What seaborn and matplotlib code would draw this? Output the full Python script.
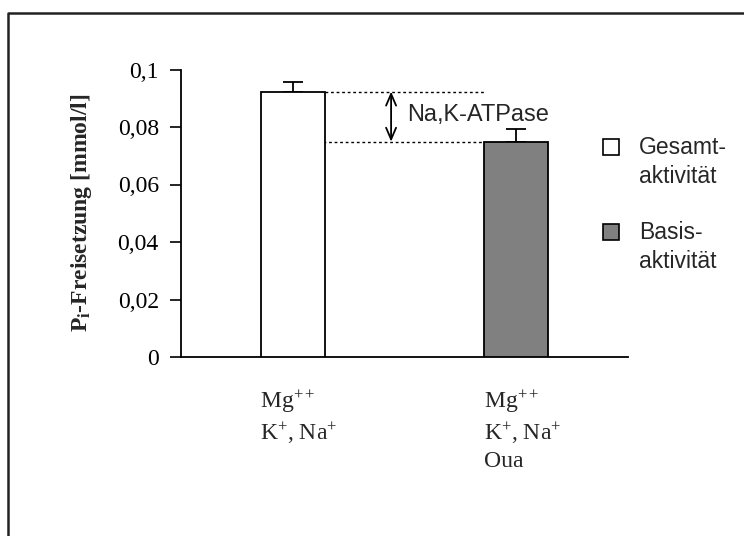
import matplotlib
matplotlib.use("Agg")
import matplotlib.pyplot as plt
from matplotlib.patches import Rectangle
from matplotlib.lines import Line2D
import seaborn as sns
import pandas as pd

# Phosphate release with and without ouabain
conditions = ["Gesamtaktivität", "Basisaktivität"]
values = [0.0923, 0.0749]
errors = [0.0035, 0.0044]
bar_colors = ["#ffffff", "#808080"]
legend_labels = ["Gesamt-\naktivität", "Basis-\naktivität"]
tick_labels = [
    "Mg$^{++}$\nK$^{+}$, Na$^{+}$",
    "Mg$^{++}$\nK$^{+}$, Na$^{+}$\nOua",
]
y_ticks = [0, 0.02, 0.04, 0.06, 0.08, 0.1]
y_tick_labels = ["0", "0,02", "0,04", "0,06", "0,08", "0,1"]
diff_label = "Na,K-ATPase"

sns.set_theme(style="white")
plt.rcParams["font.family"] = ["Liberation Serif", "DejaVu Serif"]
plt.rcParams["mathtext.fontset"] = "custom"
plt.rcParams["mathtext.rm"] = "Liberation Serif"
plt.rcParams["mathtext.it"] = "Liberation Serif:italic"
plt.rcParams["mathtext.bf"] = "Liberation Serif:bold"

SERIF_SIZE = 17
SANS_SIZE = 16.5

W, H = 744, 536
fig = plt.figure(figsize=(W / 100, H / 100), dpi=100)
fig.patch.set_facecolor("white")

def fx(px):
    return px / W

def fy(py):
    return 1 - py / H

ax = fig.add_axes([fx(181), fy(357), fx(628) - fx(181), fy(69.5) - fy(357)])

df = pd.DataFrame({"cond": conditions, "value": values})
sns.barplot(data=df, x="cond", y="value", hue="cond", palette=bar_colors,
            width=0.286, edgecolor="black", linewidth=1.3, ax=ax,
            legend=False, errorbar=None, zorder=3)

# upper error bars only
ax.errorbar([0, 1], values, yerr=[[0, 0], errors], fmt="none",
            ecolor="black", elinewidth=1.3, capsize=7, capthick=1.3, zorder=2)

ax.set_xlim(-0.5, 1.5)
ax.set_ylim(0, 0.1)
ax.set_yticks(y_ticks)
ax.set_yticklabels(y_tick_labels, fontsize=SERIF_SIZE)
ax.set_xticks([])
ax.set_xlabel("")
ax.set_ylabel("P$_\\mathbf{i}$-Freisetzung [mmol/l]", fontsize=SERIF_SIZE,
              fontweight="bold", labelpad=17)
ax.tick_params(axis="y", direction="out", length=8, width=1.2, colors="black",
               pad=8, left=True)
for side in ["top", "right"]:
    ax.spines[side].set_visible(False)
for side in ["left", "bottom"]:
    ax.spines[side].set_color("black")
    ax.spines[side].set_linewidth(1.3)
ax.set_facecolor("white")

# difference between total and basal activity
ax.plot([0.143, 0.86], [values[0], values[0]], ls=(0, (2, 2)), color="black",
        lw=1.0, zorder=1)
ax.plot([0.135, 0.86], [values[1], values[1]], ls=(0, (2, 2)), color="black",
        lw=1.0, zorder=1)
ax.annotate("", xy=(0.44, values[0]), xytext=(0.44, values[1]),
            arrowprops=dict(arrowstyle="<->,head_length=0.7,head_width=0.3",
                            color="black", lw=1.3, shrinkA=0, shrinkB=0))
ax.text(0.512, (values[0] + values[1]) / 2 + 0.0004, diff_label,
        fontsize=17, family="Liberation Sans", va="center", ha="left")

# category labels below the bars
for i, lab in enumerate(tick_labels):
    ax.text(i - 0.145, -0.011, lab, fontsize=SERIF_SIZE, va="top", ha="left",
            linespacing=1.3, transform=ax.transData, clip_on=False)

# legend
legend_y = [147, 232]
for c, lab, yy in zip(bar_colors, legend_labels, legend_y):
    fig.patches.append(Rectangle((fx(603), fy(yy + 8)), fx(16), fy(yy - 8) - fy(yy + 8),
                                 facecolor=c, edgecolor="black", lw=1.2,
                                 transform=fig.transFigure, figure=fig))
    fig.text(fx(639), fy(yy - 11), lab, fontsize=SANS_SIZE, family="Liberation Sans",
             va="top", ha="left", linespacing=1.35)

# outer frame
fig.lines.append(Line2D([fx(8), fx(8), fx(760)], [fy(560), fy(13), fy(13)],
                        color="#222222", lw=1.8, transform=fig.transFigure,
                        figure=fig))

fig.savefig("out.png", dpi=100, facecolor="white")
